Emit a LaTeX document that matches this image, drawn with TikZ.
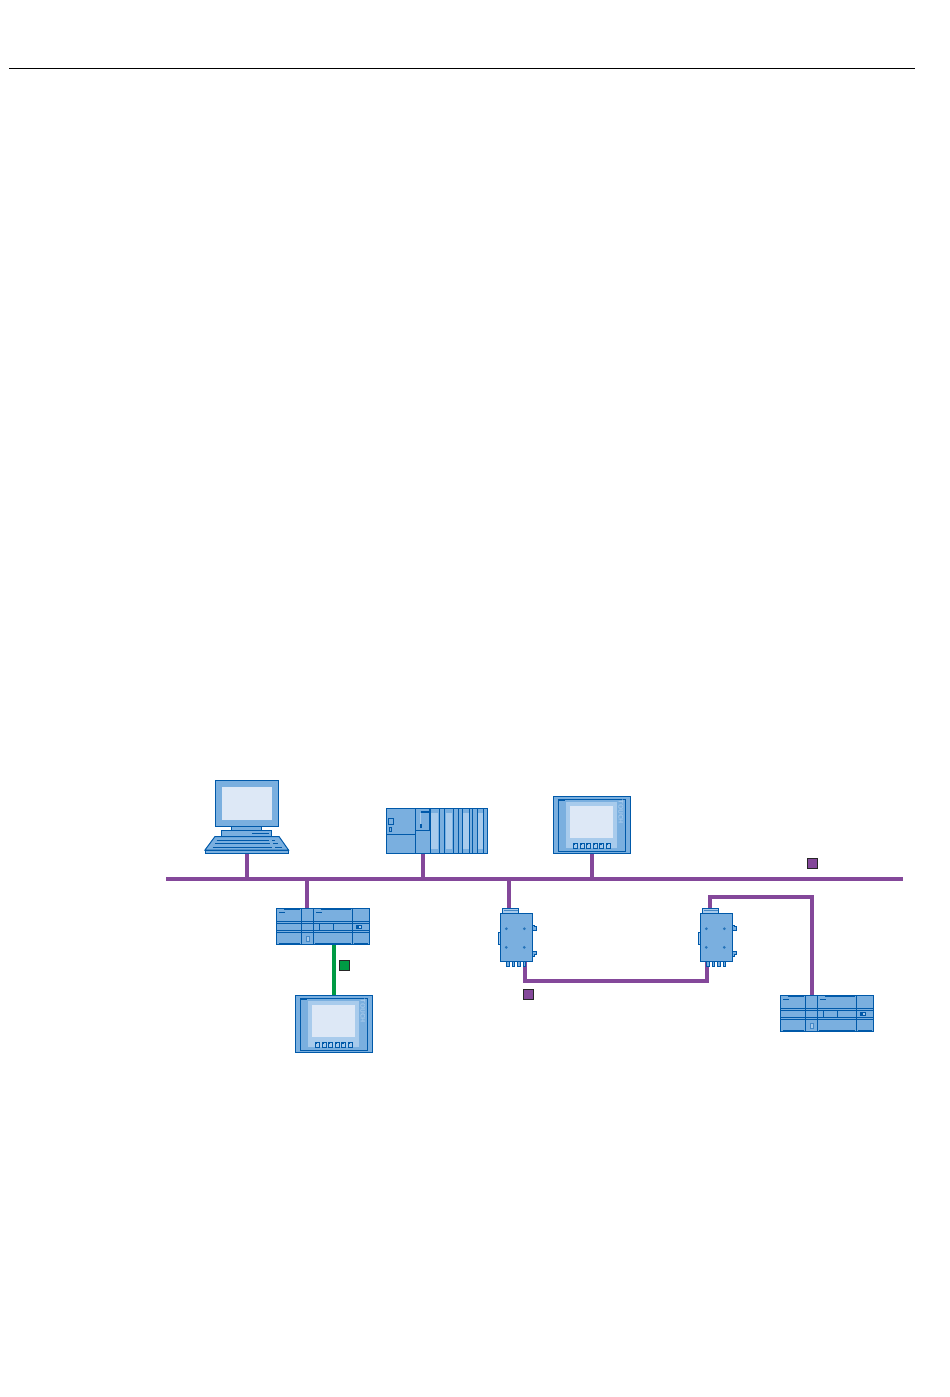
\documentclass[tikz,border=0pt]{standalone}
\usepackage{tikz}
\usepackage{xcolor}
\usetikzlibrary{backgrounds}

\definecolor{devfill}{HTML}{7AAFDF}
\definecolor{devline}{HTML}{0059A9}
\definecolor{devlight}{HTML}{A8CBEC}
\definecolor{devscreen}{HTML}{DDE8F6}
\definecolor{netpurple}{HTML}{84489A}
\definecolor{netgreen}{HTML}{009A44}

\tikzset{
    devbox/.style={draw=devline,fill=devfill,line width=1pt,inner sep=0pt,outer sep=0pt,anchor=north west},
    devdetail/.style={devline,line width=1pt},
    netline/.style={netpurple,line width=4pt},
    hmiline/.style={netgreen,line width=4pt},
    netmark/.style={draw=black!85,line width=1pt,inner sep=0pt,minimum size=10pt,anchor=north west},
    % touch panel
    pics/touchpanel/.style={code={
        \node [devbox,minimum width=77.4pt,minimum height=57.4pt] (-body) at (0,0) {};
        \draw [devdetail] (5,3) rectangle (72.4,55.4);
        \fill [devline] (5,3) rectangle (12,5);
        \fill [devlight] (12.7,5.4) rectangle (64,52);
        \fill [devscreen] (16.7,9.4) rectangle (60,42);
        \node [rotate=-90,text=devlight,inner sep=0pt,font=\sffamily\bfseries\fontsize{6.5}{6.5}\selectfont] (-label) at (67.5,15.5) {TOUCH};
        \foreach \x in {20,26.7,33,40,46.2,53} {
            \draw [devline,line width=1pt,fill=devlight] (\x,47) rectangle +(4.4,4.8);
            \fill [devline] (\x,47) rectangle +(2,2);
        }
    }},
    % compact controller
    pics/compactplc/.style={code={
        \node [devbox,minimum width=93.4pt,minimum height=36.4pt] (-body) at (0,0) {};
        \coordinate (-port) at (30.7,0);
        \foreach \y in {13.3,15,22.3,24} { \draw [devdetail] (0,\y) -- (93.4,\y); }
        \foreach \x in {25.3,37,76.3} { \draw [devdetail] (\x,0) -- (\x,36.4); }
        \foreach \x in {43,57} { \draw [devdetail] (\x,15) -- (\x,22.3); }
        \draw [devdetail] (2.7,4.3) -- (8.7,4.3);
        \draw [devdetail] (40,4.3) -- (45.3,4.3);
        \draw [devdetail] (3,35) -- (24,35);
        \draw [devdetail] (39,35) -- (75,35);
        \draw [devdetail] (78,35) -- (92,35);
        \draw [devdetail] (8,1) -- (24,1);
        \draw [devdetail] (45,1) -- (75,1);
        \fill [devline] (79.7,17) rectangle (85.3,20.3);
        \fill [devlight] (82.5,18) rectangle (84.3,19.3);
        \fill [devlight] (30,27.5) rectangle (32.5,33);
        \draw [devline!45!devfill,line width=.6pt] (30,27.5) rectangle (32.5,33);
    }},
    % media converter
    pics/converter/.style={code={
        \draw [devdetail,fill=devfill] (32,11.7) -- (34.5,11.7) -- (34.5,13.5) -- (36.3,13.5) -- (36.3,17.4) -- (32,17.4);
        \draw [devdetail,fill=devfill] (32,37.7) -- (36.3,37.7) -- (36.3,41) -- (34.5,41) -- (34.5,43) -- (32,43);
        \node [devbox,minimum width=32pt,minimum height=48.4pt] (-body) at (0,0) {};
        \node [devbox,fill=devlight,minimum width=16.4pt,minimum height=5pt] (-cap) at (2.3,-5) {};
        \draw [devline!60!devlight,line width=1pt] (3.5,-2.5) -- (17.5,-2.5);
        \coordinate (-topport) at (9,-5);
        \coordinate (-portleft) at (7,48.4);
        \coordinate (-portright) at (25,48.4);
        \draw [devdetail,fill=devlight] (-1.7,19) rectangle (.7,31);
        \foreach \x/\w in {6.3/3.4,12/2.7,17.3/3.4,23/2.7} {
            \draw [devdetail,fill=devfill] (\x,48.4) rectangle +(\w,5);
        }
        \foreach \x in {6.3,24.3} {
            \foreach \y in {15.4,34} {
                \fill [devline!70!devfill] (\x,\y) circle (1.5pt);
            }
        }
    }}
}

\begin{document}
\begin{tikzpicture}[x=1pt,y=-1pt]
    \useasboundingbox (0,0) rectangle (950,1397);
    % rule
    \coordinate (rulel) at (9,68.5);
    \coordinate (ruler) at (915,68.5);
    \draw [black,line width=1pt] (rulel) -- (ruler);
    % pc
    \node [devbox,minimum width=63.4pt,minimum height=46.4pt] (pcmonitor) at (215.3,780.3) {};
    \fill [devscreen] (221.7,786.7) rectangle (272,820);
    \node [devbox,minimum width=30pt,minimum height=3.8pt] (pcneck) at (231.5,826.7) {};
    \node [devbox,minimum width=50pt,minimum height=6pt] (pcfoot) at (221.5,830.5) {};
    \draw [devdetail] (252,833) -- (269,833);
    \draw [devline,line width=1pt,fill=devfill] (215,836.5) -- (279,836.5) -- (288.5,850) -- (205,850) -- cycle;
    \node [devbox,minimum width=83.5pt,minimum height=3.5pt] (pcbase) at (205,850) {};
    \foreach \y/\a/\b/\c/\d in {840.3/216.7/269/272.3/275,843.7/215/270/273.3/278.3,847.7/212.7/271.7/275/281.7} {
        \draw [devdetail] (\a,\y) -- (\b,\y);
        \draw [devdetail] (\c,\y) -- (\d,\y);
    }
    % rack
    \node [devbox,minimum width=101.4pt,minimum height=45pt] (rack) at (386.3,808.3) {};
    \node [devbox,minimum width=14.7pt,minimum height=45pt] (rackcpu) at (415.3,808.3) {};
    \draw [devdetail] (386.3,834.3) -- (415.3,834.3);
    \draw [devdetail] (415.3,830.7) -- (430,830.7);
    \draw [devline,line width=1.5pt] (429.5,808.3) -- (429.5,830.7);
    \fill [devline] (421,811) rectangle (428.7,812.5);
    \fill [devlight] (419.6,813) rectangle (420.4,824);
    \fill [devline] (419.7,824.3) rectangle (421.7,827.7);
    \draw [devdetail] (388.3,818.3) rectangle (393.7,824.3);
    \draw [devdetail] (389.3,827.6) rectangle (391.7,831.4);
    \foreach \x/\w in {431/6.7,445.7/6.6,463/5.7,478/5.3} {
        \fill [devlight] (\x,812.7) rectangle +(\w,36.6);
    }
    \foreach \x in {439.3,444.3,453.3,458.3,462.3,469.3,472.7,477.3,483.7} {
        \draw [devdetail] (\x,808.3) -- (\x,853.3);
    }
    % devices
    \pic (panela) at (553.3,796.3) {touchpanel};
    \pic (panelb) at (295.3,995.3) {touchpanel};
    \pic (plca) at (276.3,908.3) {compactplc};
    \pic (plcb) at (780.3,995.3) {compactplc};
    \pic (conva) at (500,913.3) {converter};
    \pic (convb) at (700,913.3) {converter};
    % network
    \coordinate (busl) at (166,879);
    \coordinate (busr) at (903,879);
    \coordinate (linkb) at (525,980.7);
    \coordinate (linkc) at (707,980.7);
    \coordinate (uplinka) at (710,896.7);
    \coordinate (uplinkb) at (812,896.7);
    \begin{scope}[on background layer]
        \draw [netline] (busl) -- (busr);
        \draw [netline] (pcbase.south) -- (pcbase.south |- busl);
        \draw [netline] (rackcpu.south) -- (rackcpu.south |- busl);
        \draw [netline] (panela-body.south) -- (panela-body.south |- busl);
        \draw [netline] (plca-port) -- (plca-port |- busl);
        \draw [netline] (conva-topport) -- (conva-topport |- busl);
        \draw [netline] (conva-portright) -- (linkb) -- (linkc) -- (convb-portleft);
        \draw [netline] (convb-cap.north -| uplinka) -- (uplinka) -- (uplinkb) -- (uplinkb |- plcb-body.north);
        \draw [hmiline] (plca-body.south -| panelb-body.north) -- (panelb-body.north);
    \end{scope}
    % marks
    \node [netmark,fill=netpurple] (markbus) at (806.7,858) {};
    \node [netmark,fill=netpurple] (marklink) at (522.7,989) {};
    \node [netmark,fill=netgreen] (markhmi) at (338.7,960) {};
\end{tikzpicture}
\end{document}
